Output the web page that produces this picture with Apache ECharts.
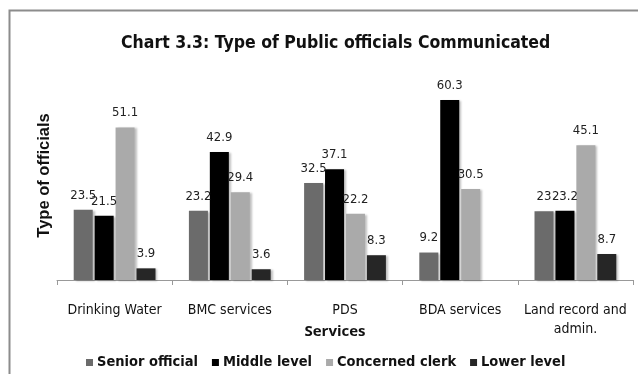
<!DOCTYPE html>
<html><head><meta charset="utf-8">
<script src="https://cdn.jsdelivr.net/npm/echarts@6/dist/echarts.min.js"></script>
<style>html,body{margin:0;padding:0;background:#fff}#c{width:638px;height:374px}</style>
</head><body><div id="c"></div>
<script>
const categories = ['Drinking Water', 'BMC services', 'PDS', 'BDA services', 'Land record and\nadmin.'];
const seriesNames = ['Senior official', 'Middle level', 'Concerned clerk', 'Lower level'];
const seniorOfficial = [23.5, 23.2, 32.5, 9.2, 23];
const middleLevel = [21.5, 42.9, 37.1, 60.3, 23.2];
const concernedClerk = [51.1, 29.4, 22.2, 30.5, 45.1];
const lowerLevel = [3.9, 3.6, 8.3, null, 8.7];
const colors = ['#6b6b6b', '#000000', '#aaaaaa', '#262626'];
const FONT = '"DejaVu Sans Condensed", "Liberation Sans Narrow", sans-serif';

const values = [seniorOfficial, middleLevel, concernedClerk, lowerLevel];
const chart = echarts.init(document.getElementById('c'));
chart.setOption({
  animation: false,
  title: {
    text: 'Chart 3.3: Type of Public officials Communicated',
    left: 116, top: 29,
    textStyle: { fontFamily: FONT, fontWeight: 'bold', fontSize: 17.5, color: '#111' }
  },
  graphic: [
    { type: 'polyline', shape: { points: [[9.5, 374], [9.5, 10.5], [638, 10.5]] },
      style: { stroke: '#8c8c8c', lineWidth: 2, fill: null } }
  ],
  legend: {
    bottom: 4, left: 86, padding: [0, 5, 0, 0], itemWidth: 7, itemHeight: 7, itemGap: 14,
    icon: 'rect',
    textStyle: { fontFamily: FONT, fontWeight: 'bold', fontSize: 14.5, color: '#111', padding: [0, 0, 0, -1] },
    data: seriesNames
  },
  grid: { left: 57, right: 5, top: 71, bottom: 94 },
  xAxis: {
    type: 'category', data: categories,
    name: 'Services', nameLocation: 'middle', nameGap: 44, nameMoveOverlap: false,
    nameTextStyle: { fontFamily: '"Open Sans", sans-serif', fontWeight: 'bold', fontSize: 15, color: '#111', padding: [0, 20, 0, 0] },
    axisLine: { lineStyle: { color: '#999' } },
    axisTick: { show: true, length: 5, lineStyle: { color: '#999' } },
    axisLabel: { interval: 0, fontFamily: FONT, fontSize: 14, color: '#111', margin: 21, lineHeight: 19 }
  },
  yAxis: {
    type: 'value', min: 0, max: 70,
    name: 'Type of officials', nameLocation: 'middle', nameGap: 4, nameRotate: 90,
    nameTextStyle: { fontFamily: '"Liberation Sans", Arial, sans-serif', fontWeight: 'bold', fontSize: 16.5, color: '#111' },
    axisLine: { show: false }, axisTick: { show: false }, axisLabel: { show: false }, splitLine: { show: false }
  },
  series: seriesNames.map((n, i) => ({
    name: n, type: 'bar', data: values[i],
    barCategoryGap: '29%', barGap: '10%',
    itemStyle: { color: colors[i], shadowColor: 'rgba(0,0,0,0.25)', shadowOffsetX: 2, shadowOffsetY: 1, shadowBlur: 2 },
    label: { show: true, position: 'top', distance: 8, fontFamily: FONT, fontSize: 13, color: '#222' }
  }))
});
</script></body></html>
